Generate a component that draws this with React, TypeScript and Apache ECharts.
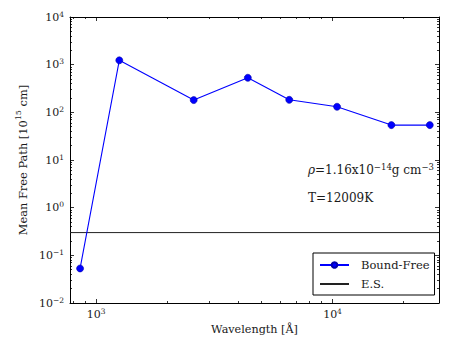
import React, { useEffect, useRef } from "react";
import * as echarts from "echarts";

// ---- data ----
const wavelengths = [856, 1254, 2588, 4384, 6560, 10450, 17740, 25780]; // Å
const boundFree = [0.053, 1233, 181, 531, 183, 131, 54, 54]; // 10^15 cm
const esValue = 0.3; // electron scattering mean free path
const seriesNames = ["Bound-Free", "E.S."];

const xRange = [776, 28200];
const yRange = [0.01, 10000];
const xMajorTicks = [1000, 10000];
const xMinorTicks = [800, 900, 2000, 3000, 4000, 5000, 6000, 7000, 8000, 9000, 20000];
const yMajorTicks = [0.01, 0.1, 1, 10, 100, 1000, 10000];
const minorMultipliers = [2, 3, 4, 5, 6, 7, 8, 9];
const yDecades = [0.01, 0.1, 1, 10, 100, 1000];

const annotationRho = "{i|ρ}{t|=1.16x10}{s|−14}{t|g cm}{s|−3}";
const annotationT = "{t|T=12009K}";

const FONT = "DejaVu Serif";
const TXT = "#1a1a1a";

const yMinorTicks: number[] = [];
yDecades.forEach((d) => minorMultipliers.forEach((m) => yMinorTicks.push(parseFloat((m * d).toPrecision(6)))));

const powLabel = (v: number) => {
  const e = Math.round(Math.log10(v));
  const es = e < 0 ? "−" + Math.abs(e) : String(e);
  return `{b|10}{s|${es}}`;
};

const tickRich = {
  b: { fontFamily: FONT, fontSize: 11, lineHeight: 14, color: TXT },
  s: { fontFamily: FONT, fontSize: 7.5, lineHeight: 9, verticalAlign: "top", color: TXT },
};

export default function App() {
  const ref = useRef<HTMLDivElement>(null);
  useEffect(() => {
    if (!ref.current) return;
    const chart = echarts.init(ref.current, null, { renderer: "svg" });
    const lineAxis = { show: true, lineStyle: { color: "#000", width: 1 } };
    const mkX = (pos: string, major: boolean, main: boolean) => ({
      type: "log",
      logBase: 10,
      min: xRange[0],
      max: xRange[1],
      position: pos,
      gridIndex: 0,
      axisLine: major ? lineAxis : { show: false },
      axisTick: {
        show: true,
        inside: true,
        length: major ? 4 : 2,
        lineStyle: { color: "#000", width: 0.8 },
        customValues: major ? xMajorTicks : xMinorTicks,
      },
      axisLabel: main
        ? {
            show: true,
            customValues: xMajorTicks,
            formatter: powLabel,
            margin: 4,
            color: TXT,
            fontFamily: FONT,
            rich: tickRich,
          }
        : { show: false },
      splitLine: { show: false },
      minorTick: { show: false },
      ...(main
        ? {
            name: "Wavelength [Å]",
            nameLocation: "middle",
            nameGap: 20,
            nameTextStyle: { fontFamily: FONT, fontSize: 11.2, color: TXT },
          }
        : {}),
    });
    const mkY = (pos: string, major: boolean, main: boolean) => ({
      type: "log",
      logBase: 10,
      min: yRange[0],
      max: yRange[1],
      position: pos,
      gridIndex: 0,
      axisLine: major ? lineAxis : { show: false },
      axisTick: {
        show: true,
        inside: true,
        length: major ? 4 : 2,
        lineStyle: { color: "#000", width: 0.8 },
        customValues: major ? yMajorTicks : yMinorTicks,
      },
      axisLabel: main
        ? {
            show: true,
            customValues: yMajorTicks,
            formatter: powLabel,
            margin: 6,
            color: TXT,
            fontFamily: FONT,
            rich: tickRich,
          }
        : { show: false },
      splitLine: { show: false },
      minorTick: { show: false },
      ...(main
        ? {
            name: "{t|Mean Free Path [10}{s|15}{t| cm]}",
            nameLocation: "middle",
            nameGap: 23,
            nameRotate: 90,
            nameTextStyle: {
              fontFamily: FONT,
              fontSize: 11.4,
              color: TXT,
              rich: {
                t: { fontFamily: FONT, fontSize: 11.4, lineHeight: 16, color: TXT },
                s: { fontFamily: FONT, fontSize: 8, lineHeight: 10, verticalAlign: "top", color: TXT },
              },
            },
          }
        : {}),
    });

    const rich = {
      t: { fontFamily: FONT, fontSize: 12, lineHeight: 16, fill: TXT },
      i: { fontFamily: FONT, fontSize: 12, lineHeight: 16, fontStyle: "italic", fill: TXT },
      s: { fontFamily: FONT, fontSize: 8.5, lineHeight: 10, verticalAlign: "top", fill: TXT },
    };

    chart.setOption({
      animation: false,
      backgroundColor: "#fff",
      textStyle: { fontFamily: FONT },
      grid: { left: 70, right: 24, top: 17, bottom: 45, containLabel: false },
      xAxis: [mkX("bottom", true, true), mkX("bottom", false, false), mkX("top", true, false), mkX("top", false, false)],
      yAxis: [mkY("left", true, true), mkY("left", false, false), mkY("right", true, false), mkY("right", false, false)],
      legend: {
        orient: "vertical",
        left: 313,
        top: 253,
        padding: [4, 5, 3, 6],
        borderColor: "#000",
        borderWidth: 1,
        borderRadius: 0,
        itemWidth: 29,
        itemHeight: 7,
        itemGap: 3,
        textStyle: { fontFamily: FONT, fontSize: 11.5, color: TXT, padding: [0, 0, 0, 7], lineHeight: 16 },
        data: [{ name: seriesNames[0] }, { name: seriesNames[1], itemStyle: { opacity: 0 } }],
      },
      graphic: [
        { type: "text", left: 308, top: 162, style: { text: annotationRho, rich, fontFamily: FONT } },
        { type: "text", left: 308, top: 192, style: { text: annotationT, rich, fontFamily: FONT } },
      ],
      series: [
        {
          type: "line",
          name: seriesNames[0],
          xAxisIndex: 0,
          yAxisIndex: 0,
          data: wavelengths.map((w, i) => [w, boundFree[i]]),
          symbol: "circle",
          symbolSize: 7,
          color: "#0000ff",
          lineStyle: { color: "#0000ff", width: 1.1 },
          itemStyle: { color: "#0000ff", borderColor: "#0000aa", borderWidth: 0.6 },
          z: 3,
        },
        {
          type: "line",
          name: seriesNames[1],
          xAxisIndex: 0,
          yAxisIndex: 0,
          data: [
            [xRange[0], esValue],
            [xRange[1], esValue],
          ],
          symbol: "none",
          color: "#000",
          lineStyle: { color: "#222", width: 1 },
          z: 2,
        },
      ],
    });
    return () => chart.dispose();
  }, []);
  return <div ref={ref} style={{ position: "absolute", left: 0, top: 0, width: 463, height: 348 }} />;
}
